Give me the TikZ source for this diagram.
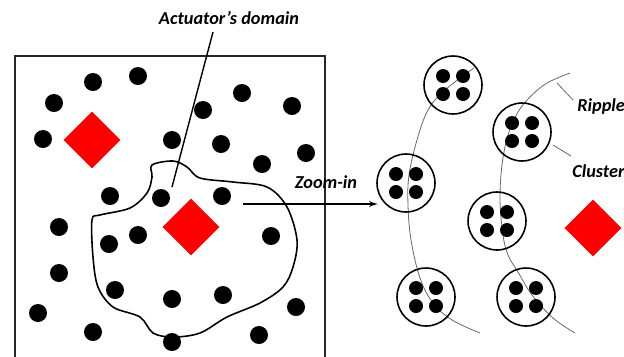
\documentclass[tikz,border=0pt]{standalone}
\usepackage{fontspec}
\setmainfont{Carlito}
\usetikzlibrary{arrows,calc,positioning,shapes.geometric}
\tikzset{%
	sensor/.style   = {circle, fill=black, inner sep=0pt, minimum size=0.36cm}, % free node
	member/.style   = {circle, fill=black, inner sep=0pt, minimum size=0.28cm}, % node in a cluster
	cluster/.style  = {draw, circle, line width=0.9pt, inner sep=0pt, minimum size=1.16cm},
	actuator/.style = {diamond, fill=red, inner sep=0pt, minimum width=1.14cm, minimum height=1.14cm},
	ripple/.style   = {draw=black!60, line width=0.45pt},
	tag/.style      = {font=\fontsize{10.4}{12}\selectfont\itshape\bfseries, inner sep=0pt},
}

\begin{document}
\begin{tikzpicture}[x=0.02cm,y=-0.02cm,>=latex']
	\useasboundingbox (0,0) rectangle (624,356);
	% field with scattered nodes
	\draw[line width=1pt,black!85] (15,360) -- (15,56) -- (325,56) -- (325,360);
	\foreach \p [count=\i] in {(93,82),(138,76),(54,103),(43,139),(203,110),(242,93),(292,106),
		(172,140),(221,144),(306,153),(262,164),(110,196),(161,198),(222,196),(59,227),(109,244),
		(138,235),(271,236),(59,273),(115,290),(172,299),(223,295),(296,307),(38,313),(93,332),
		(172,342),(259,335)}
		\node [sensor] (s\i) at \p {};
	\node [actuator] (a1) at (92,140) {};
	\node [actuator] (a2) at (191,227) {};
	% domain of the middle actuator
	\draw[line width=0.9pt] plot[smooth cycle,tension=0.55] coordinates {(152,165) (173,161) (187,167)
		(200,178) (233,182) (267,187) (287,207) (297,240) (293,267) (283,287) (260,303) (227,317)
		(200,333) (173,337) (153,333) (140,317) (113,307) (98,287) (93,257) (92,220) (100,215)
		(130,208) (147,193) (152,177)};
	\node [tag] (dom) at (229,18) {Actuator's domain};
	\coordinate (domfoot) at (213,32);
	\coordinate (domtip) at (172,187);
	\draw[line width=0.8pt] (domfoot) -- (domtip);
	
	% zoom arrow
	\node [tag] (zoom) at (326,182) {Zoom-in};
	\coordinate (zs) at (243,204);
	\coordinate (ze) at (378,204);
	\draw[->,line width=0.8pt] (zs) -- (ze);
	
	% ripples around the actuator
	\draw[ripple] plot[smooth,tension=0.6] coordinates {(474,68) (445,90) (428,110) (417,140)
		(409,175) (408,205) (411,240) (420,278) (433,303) (452,320) (480,333)};
	\draw[ripple] plot[smooth,tension=0.6] coordinates {(570,73) (547,83) (530,97) (518,112)
		(508,135) (502,165) (500,200) (503,235) (508,255) (518,272) (532,295) (553,318) (575,333)};
	\node [actuator] (a3) at (593,228) {};
	
	% clusters of four
	\foreach \c/\x/\y in {c1/453/85,c2/522/132,c3/406/183,c4/497/221,c5/426/297,c6/526/297}{
		\node [cluster] (\c) at (\x,\y) {};
		\foreach \dx/\dy [count=\k] in {-10/-9,10/-9,-10/9,10/9}
			\node [member] (\c m\k) at ($(\c)+(\dx,\dy)$) {};
	}
	
	% labels on the right
	\node [tag,anchor=west] (rip) at (577,107) {Ripple};
	\node [tag,anchor=west] (clu) at (572,171) {Cluster};
	\coordinate (ripfoot) at (557,83);
	\coordinate (riptip) at (573,100);
	\coordinate (clufoot) at (553,145);
	\coordinate (clutip) at (571,156);
	\draw[ripple] (ripfoot) -- (riptip);
	\draw[ripple] (clufoot) -- (clutip);
\end{tikzpicture}
\end{document}
